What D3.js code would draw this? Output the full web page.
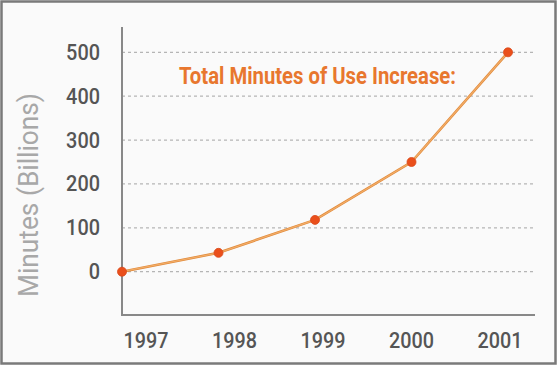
<!DOCTYPE html>
<html><head><meta charset="utf-8">
<script src="https://cdn.jsdelivr.net/npm/d3@7"></script>
<style>html,body{margin:0;padding:0;background:#fff;}svg{display:block;}</style>
</head><body>
<svg id="c" width="558" height="366"></svg>
<script>
const years = [1997, 1998, 1999, 2000, 2001];
const minutes = [0, 43, 118, 250, 500];
const yTicks = [0, 100, 200, 300, 400, 500];
const title = "Total Minutes of Use Increase:";
const yTitle = "Minutes (Billions)";

const svg = d3.select("#c");
svg.append("rect").attr("x", 1.5).attr("y", 1.5).attr("width", 554).attr("height", 362)
  .attr("fill", "#fafafa").attr("stroke", "#7a7a7a").attr("stroke-width", 2.5);

const y = d3.scaleLinear().domain([0, 500]).range([271.7, 52.3]);
const x = d3.scaleLinear().domain([1997, 2001]).range([122, 508]);
const xLab = d3.scaleLinear().domain([1997, 2001]).range([146, 500]);

svg.append("g").selectAll("line").data(yTicks).join("line")
  .attr("x1", 122).attr("x2", 536)
  .attr("y1", d => y(d)).attr("y2", d => y(d))
  .attr("stroke", "#b5b5b5").attr("stroke-width", 1.2).attr("stroke-dasharray", "3,3");

svg.append("g").selectAll("text").data(yTicks).join("text")
  .attr("x", 100).attr("y", d => y(d) + 7.5)
  .attr("text-anchor", "end")
  .attr("font-family", "Roboto, sans-serif").attr("font-size", 22).attr("font-weight", 500)
  .attr("textLength", d => String(d).length * 11.3).attr("lengthAdjust", "spacingAndGlyphs")
  .attr("fill", "#555")
  .text(d => d);

svg.append("line").attr("x1", 122).attr("x2", 122).attr("y1", 27).attr("y2", 315)
  .attr("stroke", "#888").attr("stroke-width", 2);
svg.append("line").attr("x1", 121).attr("x2", 535).attr("y1", 315).attr("y2", 315)
  .attr("stroke", "#888").attr("stroke-width", 2);

svg.append("g").selectAll("text").data(years).join("text")
  .attr("x", d => xLab(d)).attr("y", 347.5)
  .attr("text-anchor", "middle")
  .attr("font-family", "Roboto, sans-serif").attr("font-size", 22).attr("font-weight", 500)
  .attr("textLength", 45).attr("lengthAdjust", "spacingAndGlyphs")
  .attr("fill", "#555")
  .text(d => d);

svg.append("text")
  .attr("transform", "translate(37.5,195) rotate(-90)")
  .attr("text-anchor", "middle")
  .attr("font-family", "Roboto, sans-serif").attr("font-size", 27)
  .attr("textLength", 204).attr("lengthAdjust", "spacingAndGlyphs")
  .attr("fill", "#a8a8a8").text(yTitle);

svg.append("text")
  .attr("x", 179).attr("y", 83.5)
  .attr("font-family", "Roboto, sans-serif").attr("font-weight", "bold").attr("font-size", 24)
  .attr("textLength", 277).attr("lengthAdjust", "spacingAndGlyphs")
  .attr("fill", "#e8772e").text(title);

const data = years.map((yr, i) => ({yr, v: minutes[i]}));
const line = d3.line().x(d => x(d.yr)).y(d => y(d.v));
svg.append("path").datum(data).attr("d", line)
  .attr("fill", "none").attr("stroke", "#e0893a").attr("stroke-width", 2.6);
svg.append("path").datum(data).attr("d", line)
  .attr("fill", "none").attr("stroke", "#f2ad68").attr("stroke-width", 1.2);

svg.append("g").selectAll("circle").data(data).join("circle")
  .attr("cx", d => x(d.yr)).attr("cy", d => y(d.v)).attr("r", 4.5)
  .attr("fill", "#ea4f1b").attr("stroke", "#d9481a").attr("stroke-width", 0.8);
</script>
</body></html>
